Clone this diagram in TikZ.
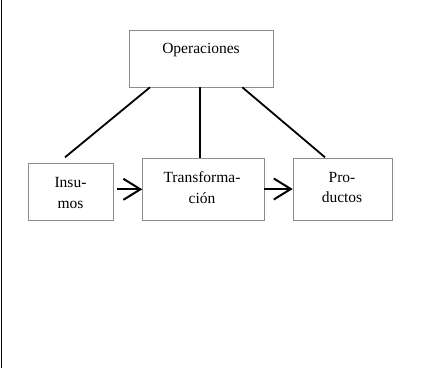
\documentclass[tikz,border=0pt]{standalone}
\usepackage{fontspec}
\setmainfont{Liberation Serif}
\usetikzlibrary{arrows.meta}
\begin{document}
\begin{tikzpicture}[x=1pt,y=-1pt,
  box/.style={draw=black!45,line width=1pt,inner sep=0pt,anchor=north west},
  lbl/.style={font=\fontsize{15.5}{20.6}\selectfont,align=center,inner sep=0pt},
  link/.style={line width=1.8pt},
  flow/.style={line width=2pt,-{Straight Barb[length=17pt,width=21pt,line width=2pt]}}]
\useasboundingbox (0,0) rectangle (430,368);
% frame line along the left margin
\draw[line width=1.3pt] (1.5,0) -- (1.5,368);
% boxes
\node[box,minimum width=144pt,minimum height=56.4pt] (ops) at (129.3,30.3) {};
\node[box,minimum width=85pt,minimum height=56.7pt] (ins) at (28.3,163.3) {};
\node[box,minimum width=122pt,minimum height=62.3pt] (tra) at (142.3,157.7) {};
\node[box,minimum width=99.6pt,minimum height=62.3pt] (pro) at (292.7,157.7) {};
% labels
\node[lbl] (opsT) at (201,50) {Operaciones};
\node[lbl] (insT) at (70.5,193) {Insu-\\mos};
\node[lbl] (traT) at (202,187.5) {Transforma-\\ción};
\node[lbl] (proT) at (342,187.5) {Pro-\\ductos};
% links from Operaciones down to the three stages
\coordinate (l1a) at (150,87.3);
\coordinate (l1b) at (65,157.3);
\coordinate (l2a) at (200,87.3);
\coordinate (l3a) at (242.3,87.3);
\coordinate (l3b) at (325,157.3);
\draw[link] (l1a) -- (l1b);
\draw[link] (l2a) -- (l2a |- tra.north);
\draw[link] (l3a) -- (l3b);
% flow arrows
\coordinate (a1) at (117.3,189.3);
\coordinate (a2) at (264.3,189);
\draw[flow] (a1) -- (a1 -| tra.west);
\draw[flow] (a2) -- (a2 -| pro.west);
\end{tikzpicture}
\end{document}
